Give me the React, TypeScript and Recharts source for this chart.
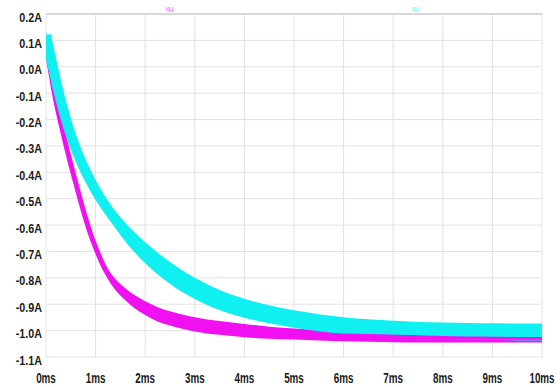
import React from 'react';
import { ComposedChart, Area, Line, XAxis, YAxis, CartesianGrid, ReferenceLine } from 'recharts';

const times = [0, 0.1, 0.2, 0.3, 0.4, 0.5, 0.6, 0.7, 0.8, 0.9, 1, 1.2, 1.4, 1.6, 1.8, 2, 2.25, 2.5, 2.75, 3, 3.5, 4, 4.5, 5, 5.5, 6, 6.5, 7, 7.5, 8, 8.5, 9, 9.5, 10];

const magentaMid = [0.09, -0.025, -0.13, -0.215, -0.295, -0.37, -0.44, -0.51, -0.575, -0.635, -0.685, -0.77, -0.825, -0.862, -0.892, -0.915, -0.938, -0.954, -0.966, -0.976, -0.99, -1.0, -1.008, -1.013, -1.017, -1.02, -1.022, -1.024, -1.025, -1.025, -1.025, -1.025, -1.025, -1.025];
const magentaSpread = [0.01, 0.01, 0.01, 0.01, 0.01, 0.01, 0.01, 0.01, 0.011, 0.013, 0.015, 0.018, 0.021, 0.023, 0.025, 0.026, 0.027, 0.027, 0.027, 0.027, 0.026, 0.025, 0.023, 0.021, 0.02, 0.02, 0.02, 0.02, 0.02, 0.02, 0.02, 0.02, 0.02, 0.02];

const cyanMid = [0.12, 0.032, -0.052, -0.13, -0.198, -0.258, -0.31, -0.356, -0.397, -0.434, -0.468, -0.528, -0.58, -0.627, -0.668, -0.705, -0.745, -0.781, -0.813, -0.84, -0.884, -0.915, -0.938, -0.956, -0.97, -0.981, -0.989, -0.995, -0.999, -1.001, -1.003, -1.004, -1.005, -1.005];
const cyanSpread = [0.015, 0.015, 0.015, 0.015, 0.016, 0.017, 0.018, 0.019, 0.02, 0.021, 0.023, 0.027, 0.031, 0.035, 0.038, 0.04, 0.041, 0.041, 0.041, 0.04, 0.038, 0.036, 0.034, 0.033, 0.032, 0.032, 0.032, 0.032, 0.032, 0.032, 0.032, 0.032, 0.032, 0.032];

const xTicks = [0, 1, 2, 3, 4, 5, 6, 7, 8, 9, 10];
const xTickLabels = ['0ms', '1ms', '2ms', '3ms', '4ms', '5ms', '6ms', '7ms', '8ms', '9ms', '10ms'];
const yTicks = [0.2, 0.1, 0, -0.1, -0.2, -0.3, -0.4, -0.5, -0.6, -0.7, -0.8, -0.9, -1.0, -1.1];
const yTickLabels = ['0.2A', '0.1A', '0.0A', '-0.1A', '-0.2A', '-0.3A', '-0.4A', '-0.5A', '-0.6A', '-0.7A', '-0.8A', '-0.9A', '-1.0A', '-1.1A'];

const seriesNames = ['I(L)', 'I(L)'];

const MAGENTA = '#f010f0';
const CYAN = '#10f0f0';
const FONT = "'Liberation Sans', Arial, sans-serif";

const data = times.map((t, i) => ({
  t,
  m: magentaMid[i],
  mBand: [magentaMid[i] - magentaSpread[i], magentaMid[i] + magentaSpread[i]],
  c: cyanMid[i],
  cBand: [cyanMid[i] - cyanSpread[i], cyanMid[i] + cyanSpread[i]],
}));

const XTick = (props: any) => {
  const { x, y, payload } = props;
  const idx = xTicks.findIndex((v) => Math.abs(v - payload.value) < 1e-9);
  return (
    <g transform={`translate(${x},${y + 26}) scale(0.68,1)`}>
      <text x={0} y={0} textAnchor="middle" fontSize={14.5} fontWeight="bold" fill="#1a1a1a" fontFamily={FONT}>
        {xTickLabels[idx]}
      </text>
    </g>
  );
};

const YTick = (props: any) => {
  const { x, y, payload } = props;
  const idx = yTicks.findIndex((v) => Math.abs(v - payload.value) < 1e-9);
  return (
    <g transform={`translate(${x},${y + 7.5}) scale(0.86,1)`}>
      <text x={0} y={0} textAnchor="end" fontSize={12.5} fontWeight="bold" fill="#1a1a1a" fontFamily={FONT}>
        {yTickLabels[idx]}
      </text>
    </g>
  );
};

export default function App() {
  return (
    <div style={{ position: 'fixed', left: 0, top: 0, width: 560, height: 387, background: '#fff' }}>
      <ComposedChart width={560} height={387} data={data} margin={{ top: 14, right: 18, bottom: 0, left: 0 }}>
        <CartesianGrid stroke="#e2e2e2" strokeWidth={1} horizontalValues={yTicks} verticalValues={xTicks} />
        <XAxis
          type="number"
          dataKey="t"
          domain={[0, 10]}
          ticks={xTicks}
          axisLine={false}
          tickLine={false}
          tickSize={0}
          tickMargin={0}
          height={30}
          interval={0}
          allowDataOverflow
          tick={<XTick />}
        />
        <YAxis
          type="number"
          domain={[-1.1, 0.2]}
          ticks={yTicks}
          axisLine={false}
          tickLine={false}
          tickSize={0}
          tickMargin={4}
          width={46}
          interval={0}
          allowDataOverflow
          tick={<YTick />}
        />
        <ReferenceLine y={0.2} stroke="#cfcfcf" strokeWidth={1.5} />
        <Area type="monotone" dataKey="mBand" stroke="none" fill={MAGENTA} fillOpacity={1} isAnimationActive={false} activeDot={false} />
        <Line type="monotone" dataKey="m" stroke={MAGENTA} strokeWidth={5} dot={false} activeDot={false} isAnimationActive={false} />
        <Area type="monotone" dataKey="cBand" stroke="none" fill={CYAN} fillOpacity={1} isAnimationActive={false} activeDot={false} />
        <Line type="monotone" dataKey="c" stroke={CYAN} strokeWidth={10} dot={false} activeDot={false} isAnimationActive={false} />
      </ComposedChart>
      <div style={{ position: 'absolute', left: 166, top: 6, fontSize: 5, color: MAGENTA, fontFamily: FONT, lineHeight: '6px' }}>{seriesNames[0]}</div>
      <div style={{ position: 'absolute', left: 412, top: 6, fontSize: 5, color: CYAN, fontFamily: FONT, lineHeight: '6px' }}>{seriesNames[1]}</div>
    </div>
  );
}
